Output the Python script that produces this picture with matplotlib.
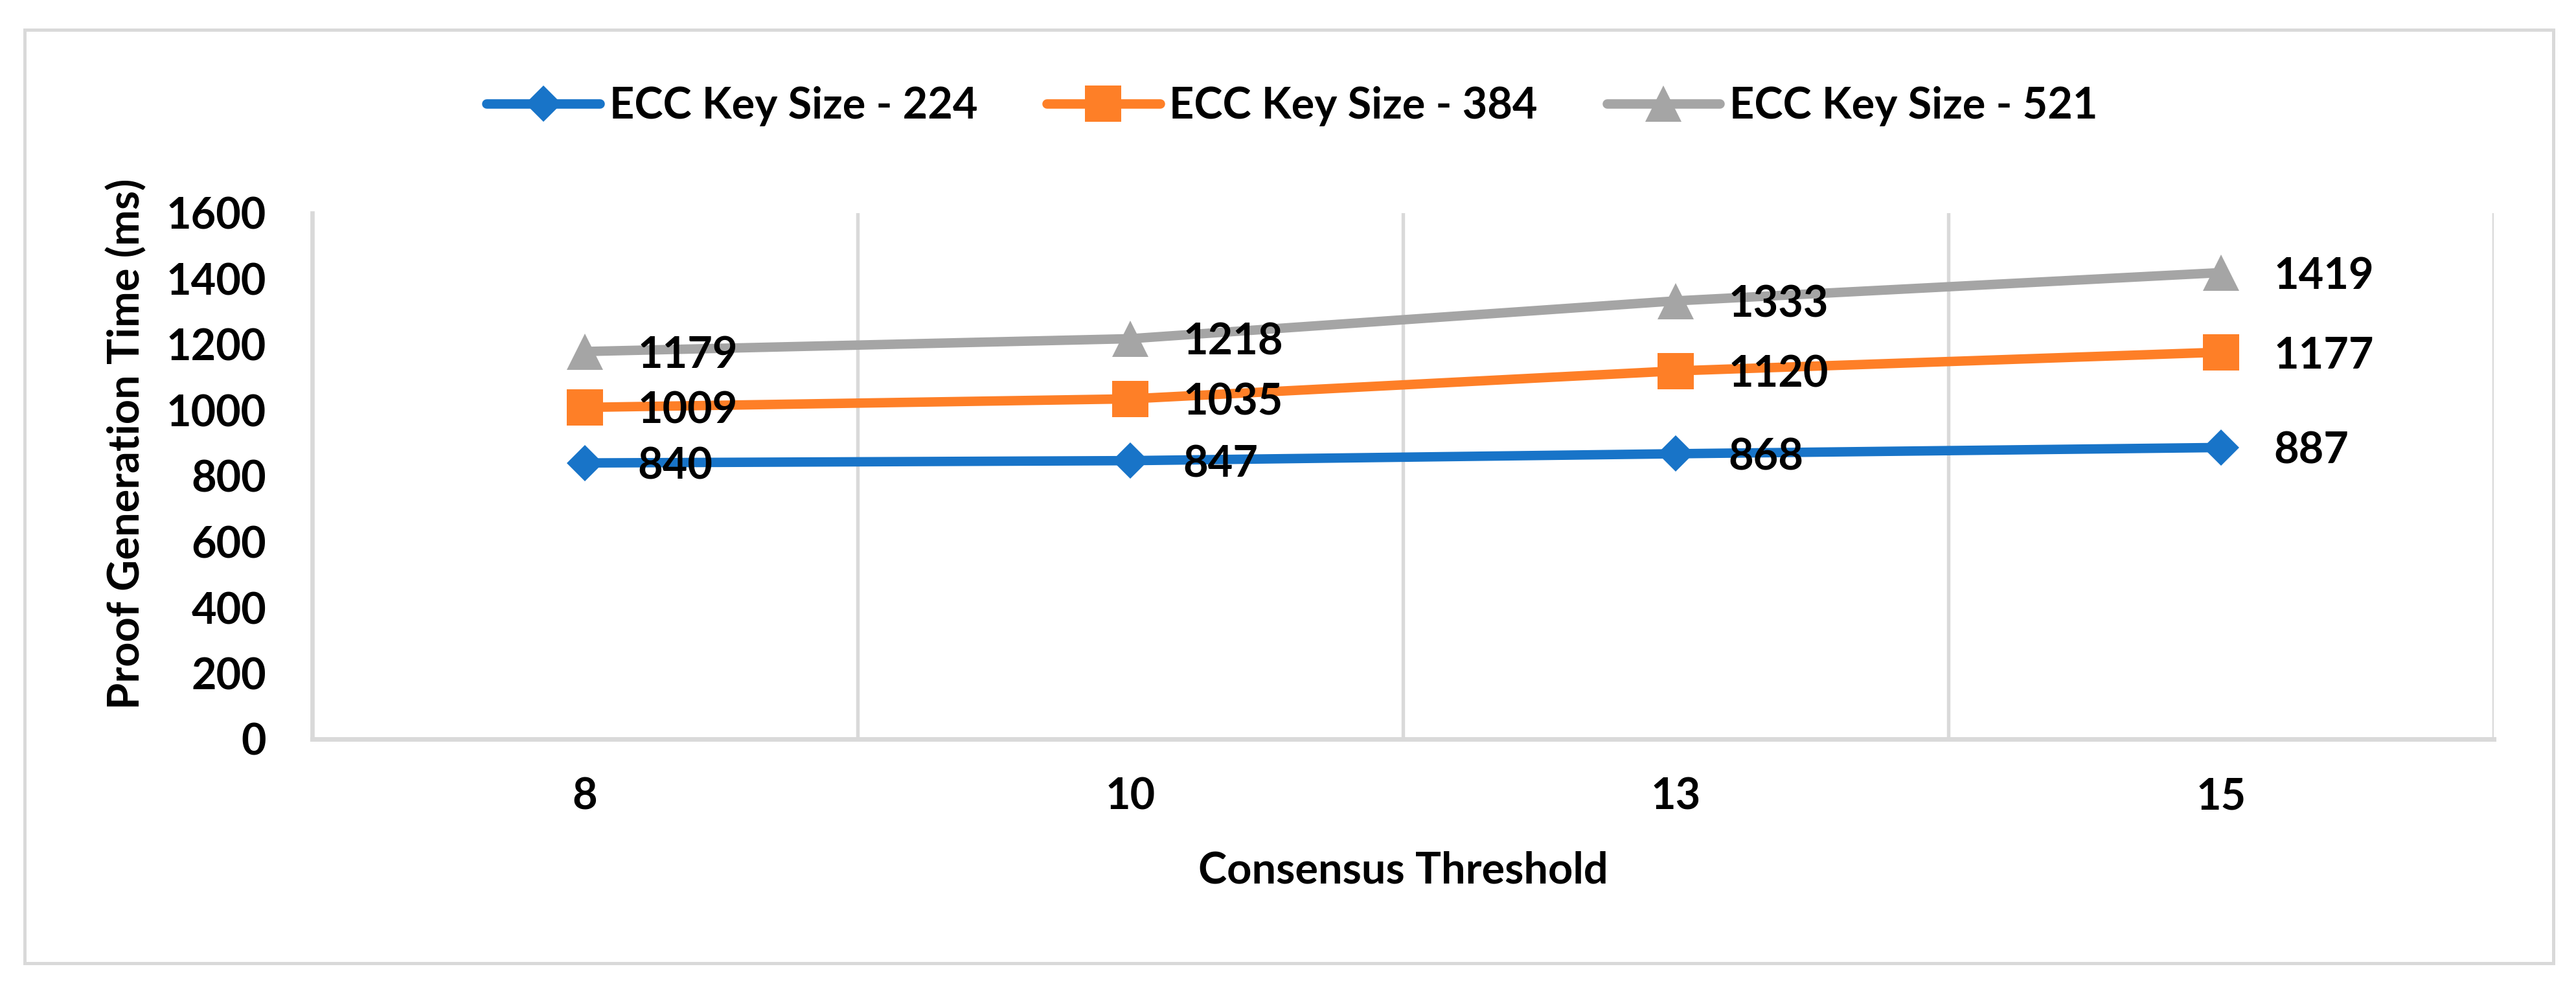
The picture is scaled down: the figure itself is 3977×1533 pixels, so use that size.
import matplotlib.pyplot as plt
from matplotlib.patches import Rectangle

# chart data
thresholds = ['8', '10', '13', '15']
ecc_224 = [840, 847, 868, 887]
ecc_384 = [1009, 1035, 1120, 1177]
ecc_521 = [1179, 1218, 1333, 1419]
series_names = ['ECC Key Size - 224', 'ECC Key Size - 384', 'ECC Key Size - 521']

plt.rcParams['font.family'] = ['Lato', 'DejaVu Sans']
plt.rcParams['font.weight'] = 'bold'

W, H, DPI = 3977, 1533, 300
fig = plt.figure(figsize=(W / DPI, H / DPI), dpi=DPI)

# outer chart border
fig.patches.append(Rectangle((38 / W, 1 - 1487 / H), (3942 - 38) / W, (1487 - 46) / H,
                             transform=fig.transFigure, fill=False,
                             edgecolor='#D9D9D9', linewidth=1.2))

ax = fig.add_axes([482 / W, 1 - 1141 / H, (3850 - 482) / W, (1141 - 329) / H])

grid_col = '#D9D9D9'
x = list(range(len(thresholds)))
styles = [
    (ecc_224, '#1874C8', 'D', 9.4),
    (ecc_384, '#FE7F27', 's', 13.3),
    (ecc_521, '#A5A5A5', '^', 13.5),
]
for (vals, col, mk, ms), name in zip(styles, series_names):
    ax.plot(x, vals, color=col, lw=3.5, marker=mk, markersize=ms,
            markeredgewidth=0, solid_capstyle='round', label=name, zorder=3)
    for xi, v in zip(x, vals):
        ax.annotate(str(v), (xi, v), xytext=(19.5, 0), textcoords='offset points',
                    ha='left', va='center_baseline', fontsize=16, fontweight='bold',
                    color='black', zorder=5)

ax.set_xlim(-0.5, len(thresholds) - 0.5)
ax.set_ylim(0, 1600)
ax.set_yticks(range(0, 1601, 200))
ax.set_xticks(x)
ax.set_xticklabels(thresholds)
ax.set_xticks([i + 0.5 for i in x], minor=True)
ax.grid(axis='x', which='minor', color=grid_col, lw=1.3)
ax.grid(axis='x', which='major', visible=False)
ax.tick_params(axis='both', which='both', length=0, labelsize=16)
ax.tick_params(axis='y', pad=17)
ax.tick_params(axis='x', pad=14)
for lbl in ax.get_xticklabels() + ax.get_yticklabels():
    lbl.set_fontweight('bold')

for s in ['top', 'right']:
    ax.spines[s].set_visible(False)
ax.spines['left'].set_color(grid_col)
ax.spines['left'].set_linewidth(1.6)
ax.spines['bottom'].set_color(grid_col)
ax.spines['bottom'].set_linewidth(1.7)

ax.set_xlabel('Consensus Threshold', fontsize=16, fontweight='bold')
ax.xaxis.set_label_coords(0.5, (1141 - 1338) / (1141 - 329))
ax.xaxis.label.set_va('center_baseline')
ax.set_ylabel('Proof Generation Time (ms)', fontsize=16, fontweight='bold')
ax.yaxis.set_label_coords((190 - 482) / (3850 - 482), (1141 - 685) / (1141 - 329))
ax.yaxis.label.set_va('center_baseline')

fig.legend(loc='center', bbox_to_anchor=(1995 / W, 1 - 164 / H), ncol=3, frameon=False,
           handlelength=2.62, handletextpad=0.22, columnspacing=1.6,
           prop={'weight': 'bold', 'size': 16})

fig.savefig('out.png', dpi=DPI)
